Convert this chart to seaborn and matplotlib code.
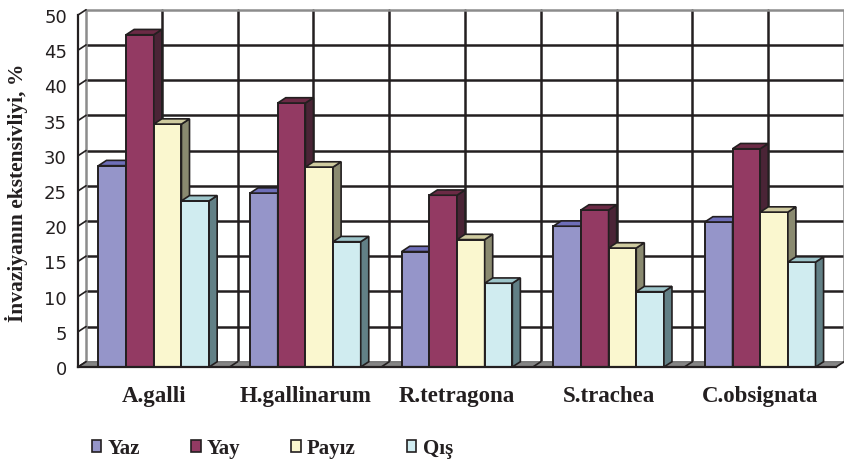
import numpy as np
import pandas as pd
import matplotlib
matplotlib.use("Agg")
import matplotlib.pyplot as plt
import seaborn as sns
from matplotlib.patches import Polygon, Patch
from matplotlib.ticker import MultipleLocator, FixedLocator
from matplotlib.font_manager import FontProperties

# ---- data ----
categories = ["A.galli", "H.gallinarum", "R.tetragona", "S.trachea", "C.obsignata"]
seasons = ["Yaz", "Yay", "Payız", "Qış"]
yaz = [28.6, 24.7, 16.4, 20.0, 20.6]
yay = [47.2, 37.5, 24.4, 22.3, 31.0]
payiz = [34.5, 28.4, 18.1, 16.9, 22.0]
qis = [23.6, 17.8, 11.9, 10.7, 14.9]
ylabel = "İnvaziyanın ekstensivliyi, %"

front_colors = ["#9595C9", "#933A63", "#FAF7CF", "#D0ECF0"]
side_colors = ["#5E5EA0", "#4A2436", "#8A8A70", "#628086"]
top_colors = ["#6E6EB8", "#6B2A45", "#CFCBA0", "#9DC5CA"]
DARK = "#231f20"

df = pd.DataFrame({
    "Parazit": categories * 4,
    "Fəsil": np.repeat(seasons, len(categories)),
    "Dəyər": yaz + yay + payiz + qis,
})

sns.set_style("white")
fig = plt.figure(figsize=(8.44, 4.6), dpi=100)
ax = fig.add_axes([78 / 844, 92 / 460, 758 / 844, 352 / 460])

sns.barplot(data=df, x="Parazit", y="Dəyər", hue="Fəsil", order=categories,
            hue_order=seasons, palette=front_colors, width=0.73, saturation=1,
            edgecolor=DARK, linewidth=1.4, errorbar=None, legend=False, ax=ax)

ax.set_xlim(-0.5, len(categories) - 0.5)
ax.set_ylim(0, 50)
ax.set_xlabel("")
ax.set_ylabel("")

# depth offset (data units)
DX = 0.053
DY = 0.75
x0a, x1a = ax.get_xlim()
y0a, y1a = ax.get_ylim()

# ---- 3D bar faces ----
items = []
for si, cont in enumerate(ax.containers):
    for p in cont.patches:
        items.append((p, si))
items.sort(key=lambda t: t[0].get_x())
for i, (p, si) in enumerate(items):
    z = 3 + i * 0.01
    p.set_zorder(z)
    x0, w, h = p.get_x(), p.get_width(), p.get_height()
    side = Polygon([(x0 + w, 0), (x0 + w + DX, DY), (x0 + w + DX, h + DY), (x0 + w, h)],
                   closed=True, facecolor=side_colors[si], edgecolor=DARK, lw=1.2, zorder=z)
    top = Polygon([(x0, h), (x0 + DX, h + DY), (x0 + w + DX, h + DY), (x0 + w, h)],
                  closed=True, facecolor=top_colors[si], edgecolor=DARK, lw=1.2, zorder=z)
    ax.add_patch(side)
    ax.add_patch(top)

# ---- back wall grid ----
yt = np.arange(y0a, y1a + 0.1, 5)
for v in yt[1:-1]:
    ax.plot([x0a + DX, x1a + DX], [v + DY, v + DY], color=DARK, lw=1.8, zorder=1, clip_on=False)
for b in np.arange(x0a + 0.5, x1a, 0.5):
    ax.plot([b + DX, b + DX], [DY, y1a + DY], color=DARK, lw=1.8, zorder=1, clip_on=False)
# wall border
ax.plot([x0a + DX, x0a + DX, x1a + DX, x1a + DX], [DY, y1a + DY, y1a + DY, DY],
        color="#8c8c8c", lw=1.8, zorder=1.2, clip_on=False)
# left wall diagonals
for v in yt:
    ax.plot([x0a, x0a + DX], [v, v + DY], color=DARK, lw=1.2, zorder=1.3, clip_on=False)

# floor
floor = Polygon([(x0a, 0), (x1a, 0), (x1a + DX, DY), (x0a + DX, DY)], closed=True,
                facecolor="#858585", edgecolor="#6a6a6a", lw=0.8, zorder=2, clip_on=False)
ax.add_patch(floor)
for b in np.arange(x0a, x1a + 0.01, 1.0):
    ax.plot([b, b + DX], [0, DY], color=DARK, lw=1.2, zorder=2.1, clip_on=False)

# ---- axes styling ----
for s in ["top", "right"]:
    ax.spines[s].set_visible(False)
for s in ["left", "bottom"]:
    ax.spines[s].set_color(DARK)
    ax.spines[s].set_linewidth(1.6)
    ax.spines[s].set_zorder(5)

ax.yaxis.set_major_locator(MultipleLocator(5))
ax.tick_params(axis="y", direction="out", length=6, width=1.4, color=DARK,
               labelsize=13, pad=2, labelcolor=DARK)
ax.xaxis.set_minor_locator(FixedLocator(np.arange(x0a, x1a + 0.01, 1.0)))
ax.tick_params(axis="x", which="major", length=0, pad=13, labelcolor=DARK)
ax.tick_params(axis="x", which="minor", direction="out", length=6, width=1.4, color=DARK)
for lab in ax.get_yticklabels():
    lab.set_family("DejaVu Sans")
for lab in ax.get_xticklabels():
    lab.set_fontproperties(FontProperties(family="Liberation Serif", weight="bold", size=16.5))
ax.grid(False)
ax.patch.set_alpha(0)

fig.text(17 / 844, 1 - 193 / 460, ylabel, rotation=90, ha="center", va="center",
         family="Liberation Serif", weight="bold", size=15.5, color=DARK)

handles = [Patch(facecolor=c, edgecolor=DARK, lw=1.2) for c in front_colors]
fig.legend(handles, seasons, loc="center left", bbox_to_anchor=(92 / 844, 1 - 449 / 460),
           ncol=4, frameon=False,
           prop=FontProperties(family="Liberation Serif", weight="bold", size=15),
           handlelength=0.45, handleheight=0.5, handletextpad=0.3, columnspacing=2.45,
           borderaxespad=0, borderpad=0, labelcolor=DARK)

fig.savefig("out.png", dpi=100, facecolor="white")
